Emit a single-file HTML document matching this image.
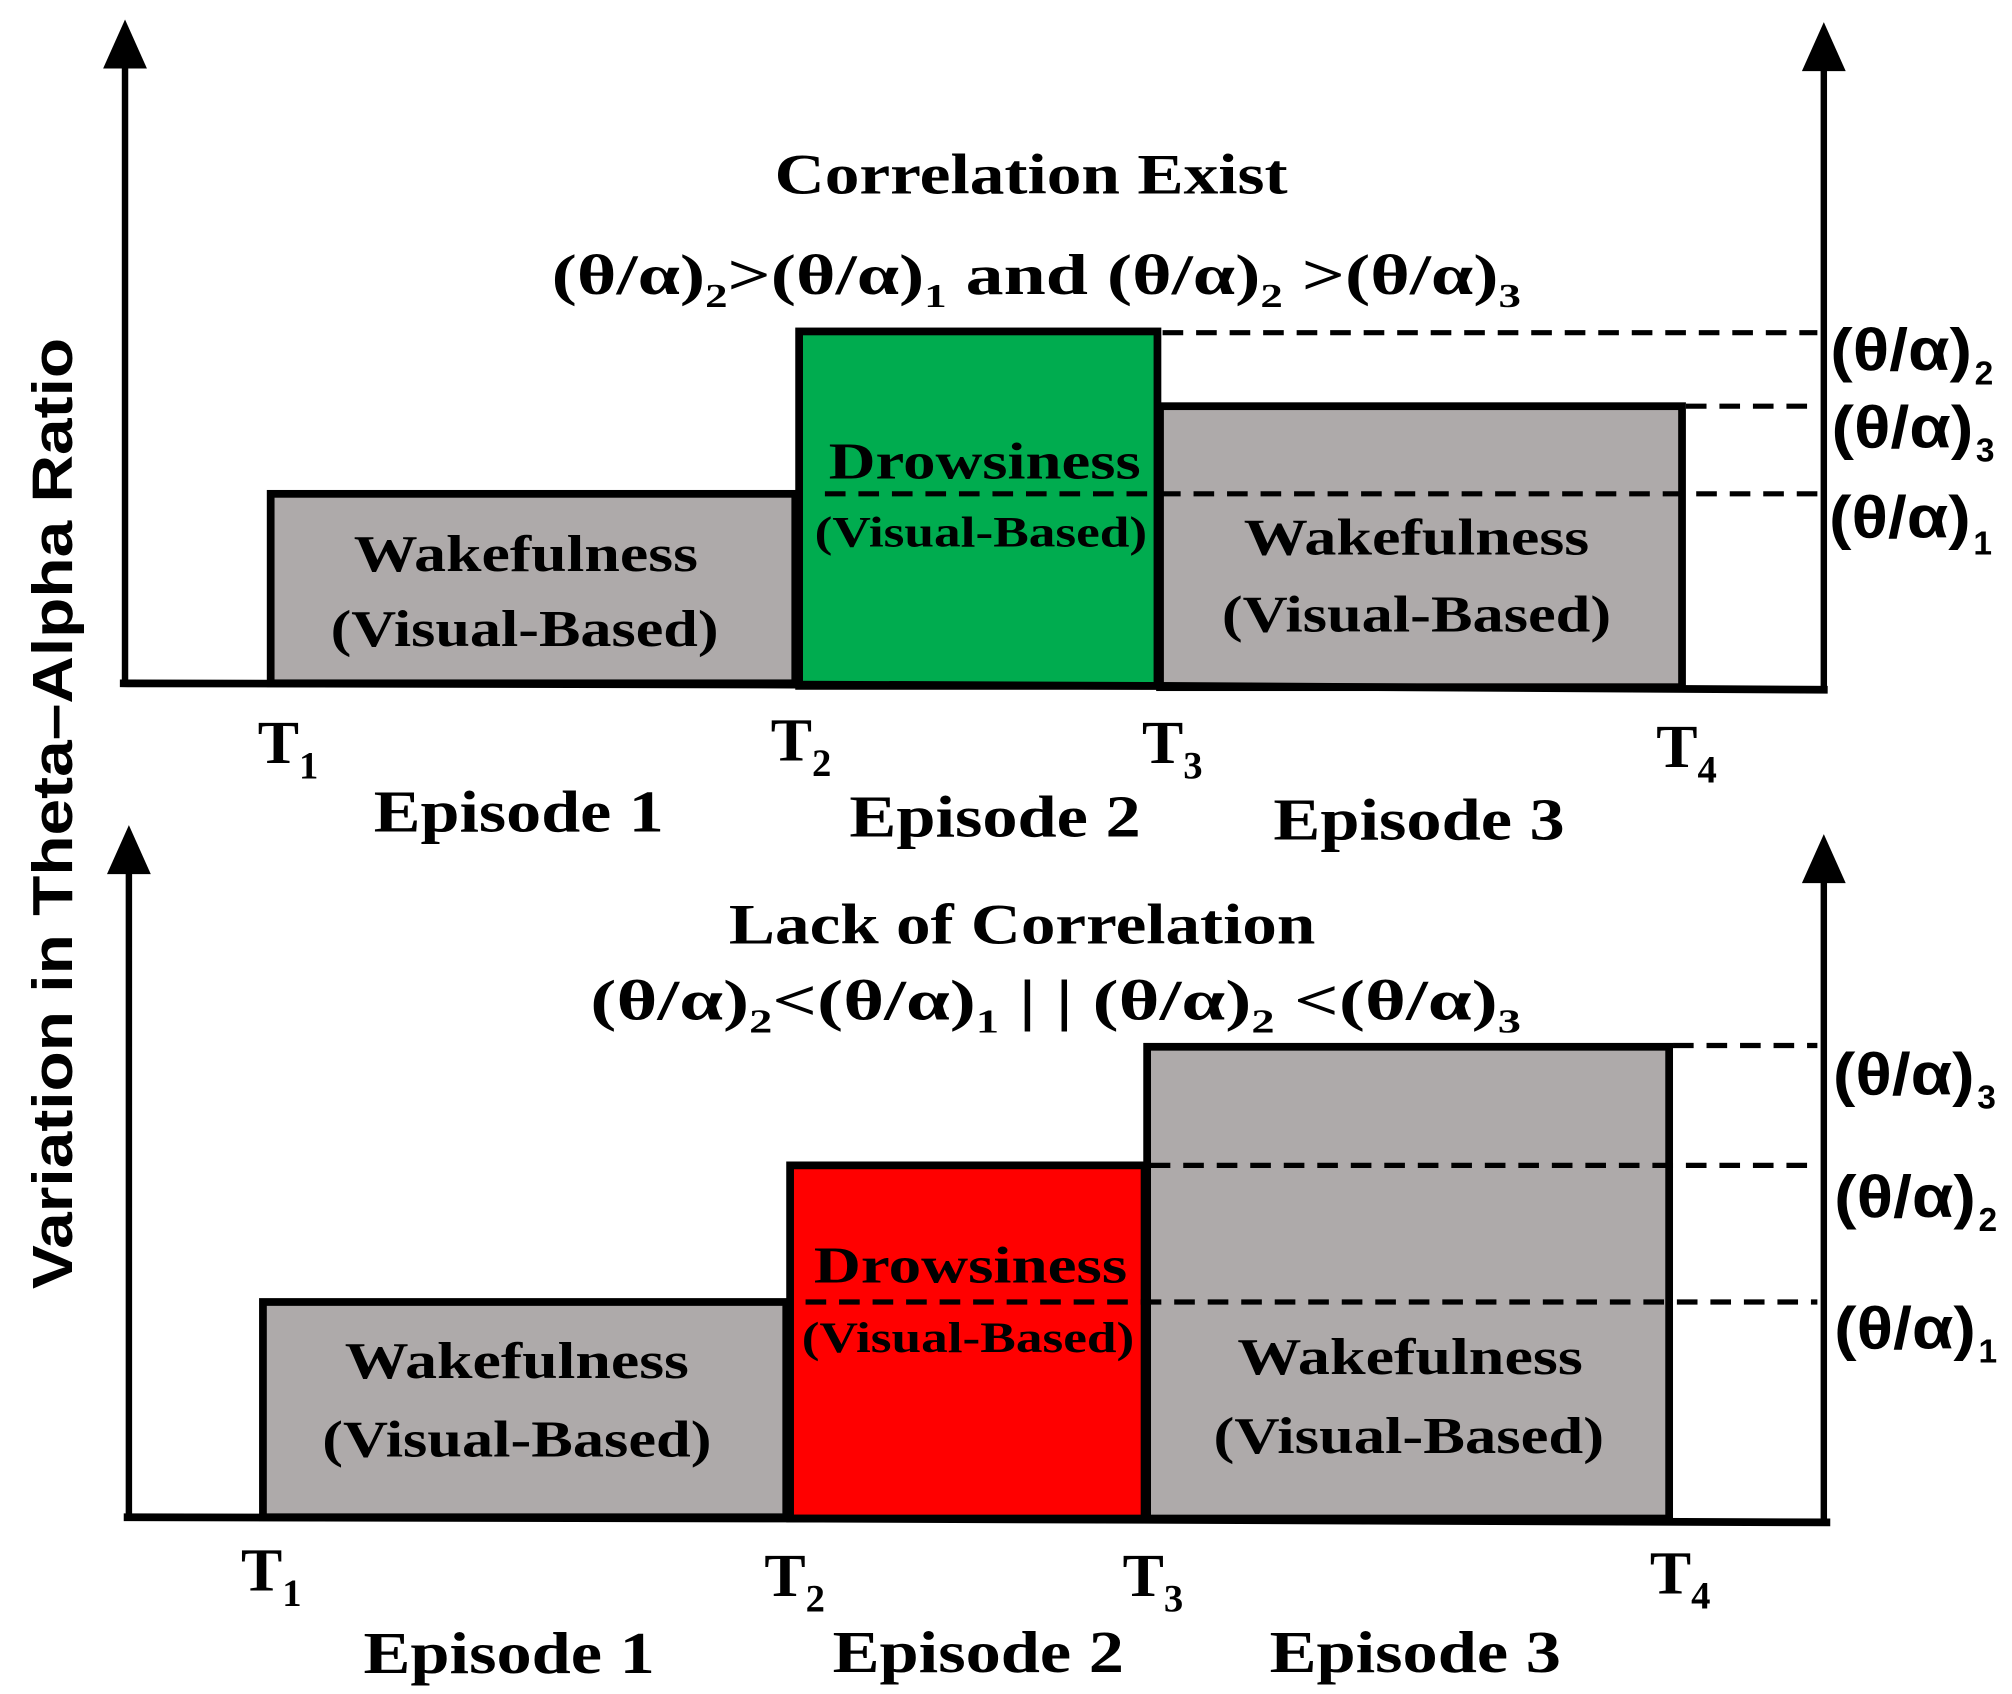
<!DOCTYPE html>
<html><head><meta charset="utf-8"><style>html,body{margin:0;padding:0;background:#fff}svg{display:block}</style></head>
<body>
<svg width="2012" height="1694" viewBox="0 0 1561 1314" xmlns="http://www.w3.org/2000/svg">
<g font-family="Liberation Serif, serif" font-weight="bold" fill="#000">
<!-- Y label -->
<text transform="translate(56,631) rotate(-90)" text-anchor="middle" font-family="Liberation Sans, sans-serif" font-size="44" textLength="738" lengthAdjust="spacingAndGlyphs">Variation in Theta–Alpha Ratio</text>

<!-- TOP PANEL -->
<rect x="210" y="383" width="407" height="147" fill="#aeaaaa" stroke="#000" stroke-width="6"/>
<rect x="620" y="257" width="278" height="275" fill="#00ac4f" stroke="#000" stroke-width="6"/>
<rect x="900" y="315" width="405" height="218" fill="#aeaaaa" stroke="#000" stroke-width="6"/>
<line x1="97" y1="40" x2="97" y2="531" stroke="#000" stroke-width="5"/>
<polygon points="97,15 80,53 114,53"/>
<line x1="1415" y1="42" x2="1415" y2="535" stroke="#000" stroke-width="5"/>
<polygon points="1415,17 1398,55 1432,55"/>
<polyline points="93,530 617,531 900,532 1418,535" fill="none" stroke="#000" stroke-width="6"/>
<g stroke="#000" stroke-width="4" stroke-dasharray="16,10" fill="none">
<line x1="902" y1="258" x2="1410" y2="258"/>
<line x1="1308" y1="315" x2="1410" y2="315"/>
<line x1="640" y1="383" x2="1410" y2="383"/>
</g>
<text x="800" y="150" text-anchor="middle" font-size="44" textLength="398" lengthAdjust="spacingAndGlyphs">Correlation Exist</text>
<text x="428" y="228" font-size="44" textLength="752" lengthAdjust="spacingAndGlyphs">(θ/α)<tspan font-size="26" dy="10">2</tspan><tspan dy="-10">&gt;(θ/α)</tspan><tspan font-size="26" dy="10">1</tspan><tspan dy="-10"> and (θ/α)</tspan><tspan font-size="26" dy="10">2</tspan><tspan dy="-10">  &gt;(θ/α)</tspan><tspan font-size="26" dy="10">3</tspan></text>
<text x="408" y="443" text-anchor="middle" font-size="40" textLength="267" lengthAdjust="spacingAndGlyphs">Wakefulness</text>
<text x="407" y="501" text-anchor="middle" font-size="40" textLength="301" lengthAdjust="spacingAndGlyphs">(Visual-Based)</text>
<text x="764" y="371" text-anchor="middle" font-size="40" textLength="242" lengthAdjust="spacingAndGlyphs">Drowsiness</text>
<text x="761" y="424" text-anchor="middle" font-size="34" textLength="258" lengthAdjust="spacingAndGlyphs">(Visual-Based)</text>
<text x="1099" y="430" text-anchor="middle" font-size="40" textLength="268" lengthAdjust="spacingAndGlyphs">Wakefulness</text>
<text x="1099" y="490" text-anchor="middle" font-size="40" textLength="302" lengthAdjust="spacingAndGlyphs">(Visual-Based)</text>
<g font-size="48">
<text x="200" y="592">T<tspan font-size="30" dy="12">1</tspan></text>
<text x="598" y="590">T<tspan font-size="30" dy="12">2</tspan></text>
<text x="886" y="592">T<tspan font-size="30" dy="12">3</tspan></text>
<text x="1285" y="595">T<tspan font-size="30" dy="12">4</tspan></text>
<text x="290" y="645" font-size="46" textLength="225" lengthAdjust="spacingAndGlyphs">Episode 1</text>
<text x="659" y="649" font-size="46" textLength="226" lengthAdjust="spacingAndGlyphs">Episode 2</text>
<text x="988" y="651" font-size="46" textLength="226" lengthAdjust="spacingAndGlyphs">Episode 3</text>
</g>
<g font-family="Liberation Sans, sans-serif" font-size="46">
<text x="1420" y="287" textLength="110" lengthAdjust="spacingAndGlyphs">(θ/α)</text><text x="1532" y="298" font-size="26">2</text>
<text x="1421" y="347" textLength="110" lengthAdjust="spacingAndGlyphs">(θ/α)</text><text x="1533" y="358" font-size="26">3</text>
<text x="1419" y="417" textLength="110" lengthAdjust="spacingAndGlyphs">(θ/α)</text><text x="1531" y="430" font-size="26">1</text>
</g>

<!-- BOTTOM PANEL -->
<rect x="204" y="1010" width="406" height="167" fill="#aeaaaa" stroke="#000" stroke-width="6"/>
<rect x="613" y="904" width="275" height="274" fill="#ff0000" stroke="#000" stroke-width="6"/>
<rect x="890" y="812" width="405" height="366" fill="#aeaaaa" stroke="#000" stroke-width="6"/>
<line x1="100" y1="665" x2="100" y2="1178" stroke="#000" stroke-width="5"/>
<polygon points="100,640 83,678 117,678"/>
<line x1="1415" y1="670" x2="1415" y2="1180" stroke="#000" stroke-width="5"/>
<polygon points="1415,647 1398,685 1432,685"/>
<polyline points="96,1177 610,1178 888,1179 1420,1181" fill="none" stroke="#000" stroke-width="6"/>
<g stroke="#000" stroke-width="4" stroke-dasharray="16,10" fill="none">
<line x1="1298" y1="811" x2="1410" y2="811"/>
<line x1="892" y1="904" x2="1410" y2="904"/>
<line x1="625" y1="1010" x2="1410" y2="1010"/>
</g>
<text x="793" y="732" text-anchor="middle" font-size="44" textLength="455" lengthAdjust="spacingAndGlyphs">Lack of Correlation</text>
<text x="458" y="791" font-size="44" textLength="722" lengthAdjust="spacingAndGlyphs">(θ/α)<tspan font-size="26" dy="10">2</tspan><tspan dy="-10">&lt;(θ/α)</tspan><tspan font-size="26" dy="10">1</tspan><tspan dy="-10"> | | (θ/α)</tspan><tspan font-size="26" dy="10">2</tspan><tspan dy="-10">  &lt;(θ/α)</tspan><tspan font-size="26" dy="10">3</tspan></text>
<text x="401" y="1069" text-anchor="middle" font-size="40" textLength="267" lengthAdjust="spacingAndGlyphs">Wakefulness</text>
<text x="401" y="1130" text-anchor="middle" font-size="40" textLength="302" lengthAdjust="spacingAndGlyphs">(Visual-Based)</text>
<text x="753" y="995" text-anchor="middle" font-size="40" textLength="243" lengthAdjust="spacingAndGlyphs">Drowsiness</text>
<text x="751" y="1049" text-anchor="middle" font-size="34" textLength="258" lengthAdjust="spacingAndGlyphs">(Visual-Based)</text>
<text x="1094" y="1066" text-anchor="middle" font-size="40" textLength="268" lengthAdjust="spacingAndGlyphs">Wakefulness</text>
<text x="1093" y="1127" text-anchor="middle" font-size="40" textLength="303" lengthAdjust="spacingAndGlyphs">(Visual-Based)</text>
<g font-size="48">
<text x="187" y="1234">T<tspan font-size="30" dy="12">1</tspan></text>
<text x="593" y="1238">T<tspan font-size="30" dy="12">2</tspan></text>
<text x="871" y="1238">T<tspan font-size="30" dy="12">3</tspan></text>
<text x="1280" y="1236">T<tspan font-size="30" dy="12">4</tspan></text>
<text x="282" y="1298" font-size="46" textLength="226" lengthAdjust="spacingAndGlyphs">Episode 1</text>
<text x="646" y="1297" font-size="46" textLength="226" lengthAdjust="spacingAndGlyphs">Episode 2</text>
<text x="985" y="1297" font-size="46" textLength="226" lengthAdjust="spacingAndGlyphs">Episode 3</text>
</g>
<g font-family="Liberation Sans, sans-serif" font-size="46">
<text x="1422" y="849" textLength="110" lengthAdjust="spacingAndGlyphs">(θ/α)</text><text x="1534" y="860" font-size="26">3</text>
<text x="1423" y="944" textLength="110" lengthAdjust="spacingAndGlyphs">(θ/α)</text><text x="1535" y="955" font-size="26">2</text>
<text x="1423" y="1046" textLength="110" lengthAdjust="spacingAndGlyphs">(θ/α)</text><text x="1535" y="1057" font-size="26">1</text>
</g>
</g>
</svg>
</body></html>
